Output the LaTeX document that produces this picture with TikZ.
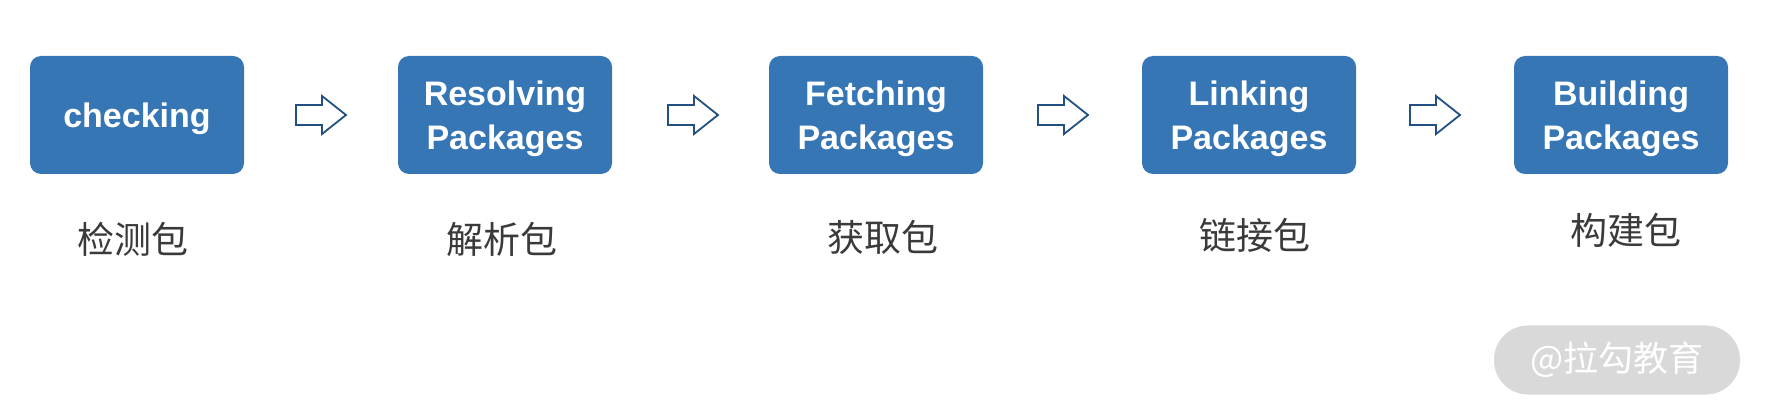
\documentclass[tikz,border=0pt]{standalone}
\usepackage{fontspec}
\setmainfont{Liberation Sans}
\newfontfamily\cjk{Noto Sans CJK SC}
\definecolor{boxblue}{RGB}{55,118,181}
\definecolor{arrowblue}{RGB}{34,80,130}
\definecolor{labelgray}{RGB}{58,58,58}
\definecolor{wmgray}{RGB}{217,217,217}
\tikzset{
  stepbox/.style={fill=boxblue, rounded corners=11pt, minimum width=214pt, minimum height=118pt, inner sep=0pt},
  steptext/.style={text=white, font=\fontsize{34}{44}\selectfont\bfseries, align=center, inner sep=0pt, yshift=-4pt},
  cnlabel/.style={text=labelgray, font=\cjk\fontsize{37}{40}\selectfont, inner sep=0pt},
  flowarrow/.style={draw=arrowblue, fill=white, line width=1.8pt, line join=miter},
}
\begin{document}
\begin{tikzpicture}[x=1pt,y=-1pt]
\useasboundingbox (0,0) rectangle (1766,419);
\node[stepbox] (b1) at (137,115) {};
\node[stepbox] (b2) at (505,115) {};
\node[stepbox] (b3) at (876,115) {};
\node[stepbox] (b4) at (1249,115) {};
\node[stepbox] (b5) at (1621,115) {};
\node[steptext] (t1) at (b1.center) {checking};
\node[steptext] (t2) at (b2.center) {Resolving\\Packages};
\node[steptext] (t3) at (b3.center) {Fetching\\Packages};
\node[steptext] (t4) at (b4.center) {Linking\\Packages};
\node[steptext] (t5) at (b5.center) {Building\\Packages};
\node[cnlabel] (l1) at (133,239) {检测包};
\node[cnlabel] (l2) at (502,239) {解析包};
\node[cnlabel] (l3) at (883,237) {获取包};
\node[cnlabel] (l4) at (1255,235) {链接包};
\node[cnlabel] (l5) at (1626,230) {构建包};
\coordinate (a1) at (296,115);
\coordinate (a2) at (668,115);
\coordinate (a3) at (1038,115);
\coordinate (a4) at (1410,115);
\foreach \s in {a1,a2,a3,a4}{
  \draw[flowarrow] (\s) ++(0,-10) -- ++(26,0) -- ++(0,-9) -- ++(24,19) -- ++(-24,19) -- ++(0,-9) -- ++(-26,0) -- cycle;
}
\node[fill=wmgray, rounded corners=34pt, minimum width=246pt, minimum height=69pt, text=white,
  font=\cjk\fontsize{35}{38}\selectfont, inner sep=0pt] (wm) at (1617,360) {@拉勾教育};
\end{tikzpicture}
\end{document}
